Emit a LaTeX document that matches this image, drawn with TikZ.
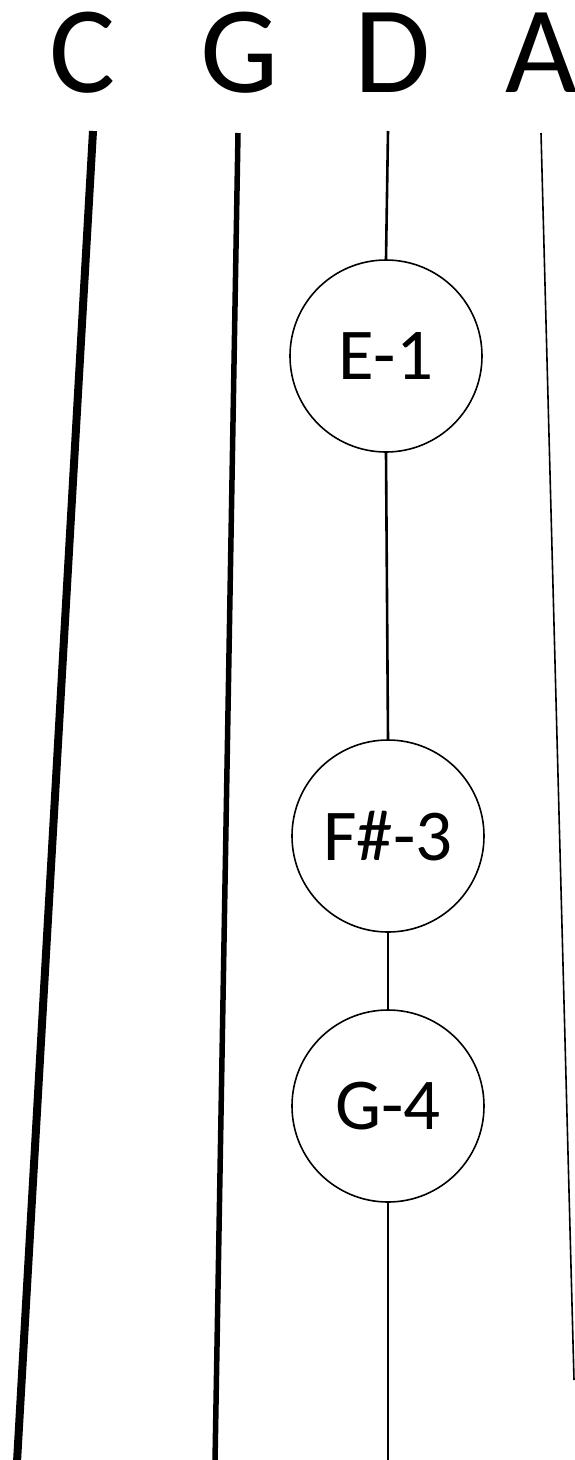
\documentclass[tikz,border=0pt]{standalone}
\usepackage{fontspec}
\setmainfont{Carlito}
\begin{document}
\begin{tikzpicture}[x=1pt,y=-1pt,
  strname/.style={anchor=base,inner sep=0pt,font=\fontsize{124}{124}\selectfont},
  fingernote/.style={circle,draw,line width=1.6pt,fill=white,minimum size=192pt,inner sep=0pt,font=\fontsize{73}{73}\selectfont},
  cstring/.style={line width=8pt},
  gstring/.style={line width=5.5pt},
  dstring/.style={line width=2.6pt},
  astring/.style={line width=1.6pt}]
\useasboundingbox (0,0) rectangle (575,1460);
\node[strname] (lc) at (83,92) {C};
\node[strname] (lg) at (240,92) {G};
\node[strname] (ld) at (393,92) {D};
\node[strname] (la) at (541,92) {A};
\coordinate (ctop) at (93,131);
\coordinate (cbot) at (17,1462);
\coordinate (gtop) at (238,133);
\coordinate (gbot) at (215,1462);
\coordinate (dtop) at (388,131);
\coordinate (dbot) at (388,1462);
\coordinate (atop) at (541,133);
\coordinate (abot) at (574,1380);
\node[fingernote] (e1) at (386,356) {E-1};
\node[fingernote] (f3) at (388,836) {F\#-3};
\node[fingernote] (g4) at (388,1106) {G-4};
\draw[cstring] (ctop) -- (cbot);
\draw[gstring] (gtop) -- (gbot);
\draw[astring] (atop) -- (abot);
\draw[dstring] (dtop) -- (e1.north);
\draw[dstring] (e1.south) -- (f3.north);
\draw[dstring] (f3.south) -- (g4.north);
\draw[dstring] (g4.south) -- (dbot);
\end{tikzpicture}
\end{document}
